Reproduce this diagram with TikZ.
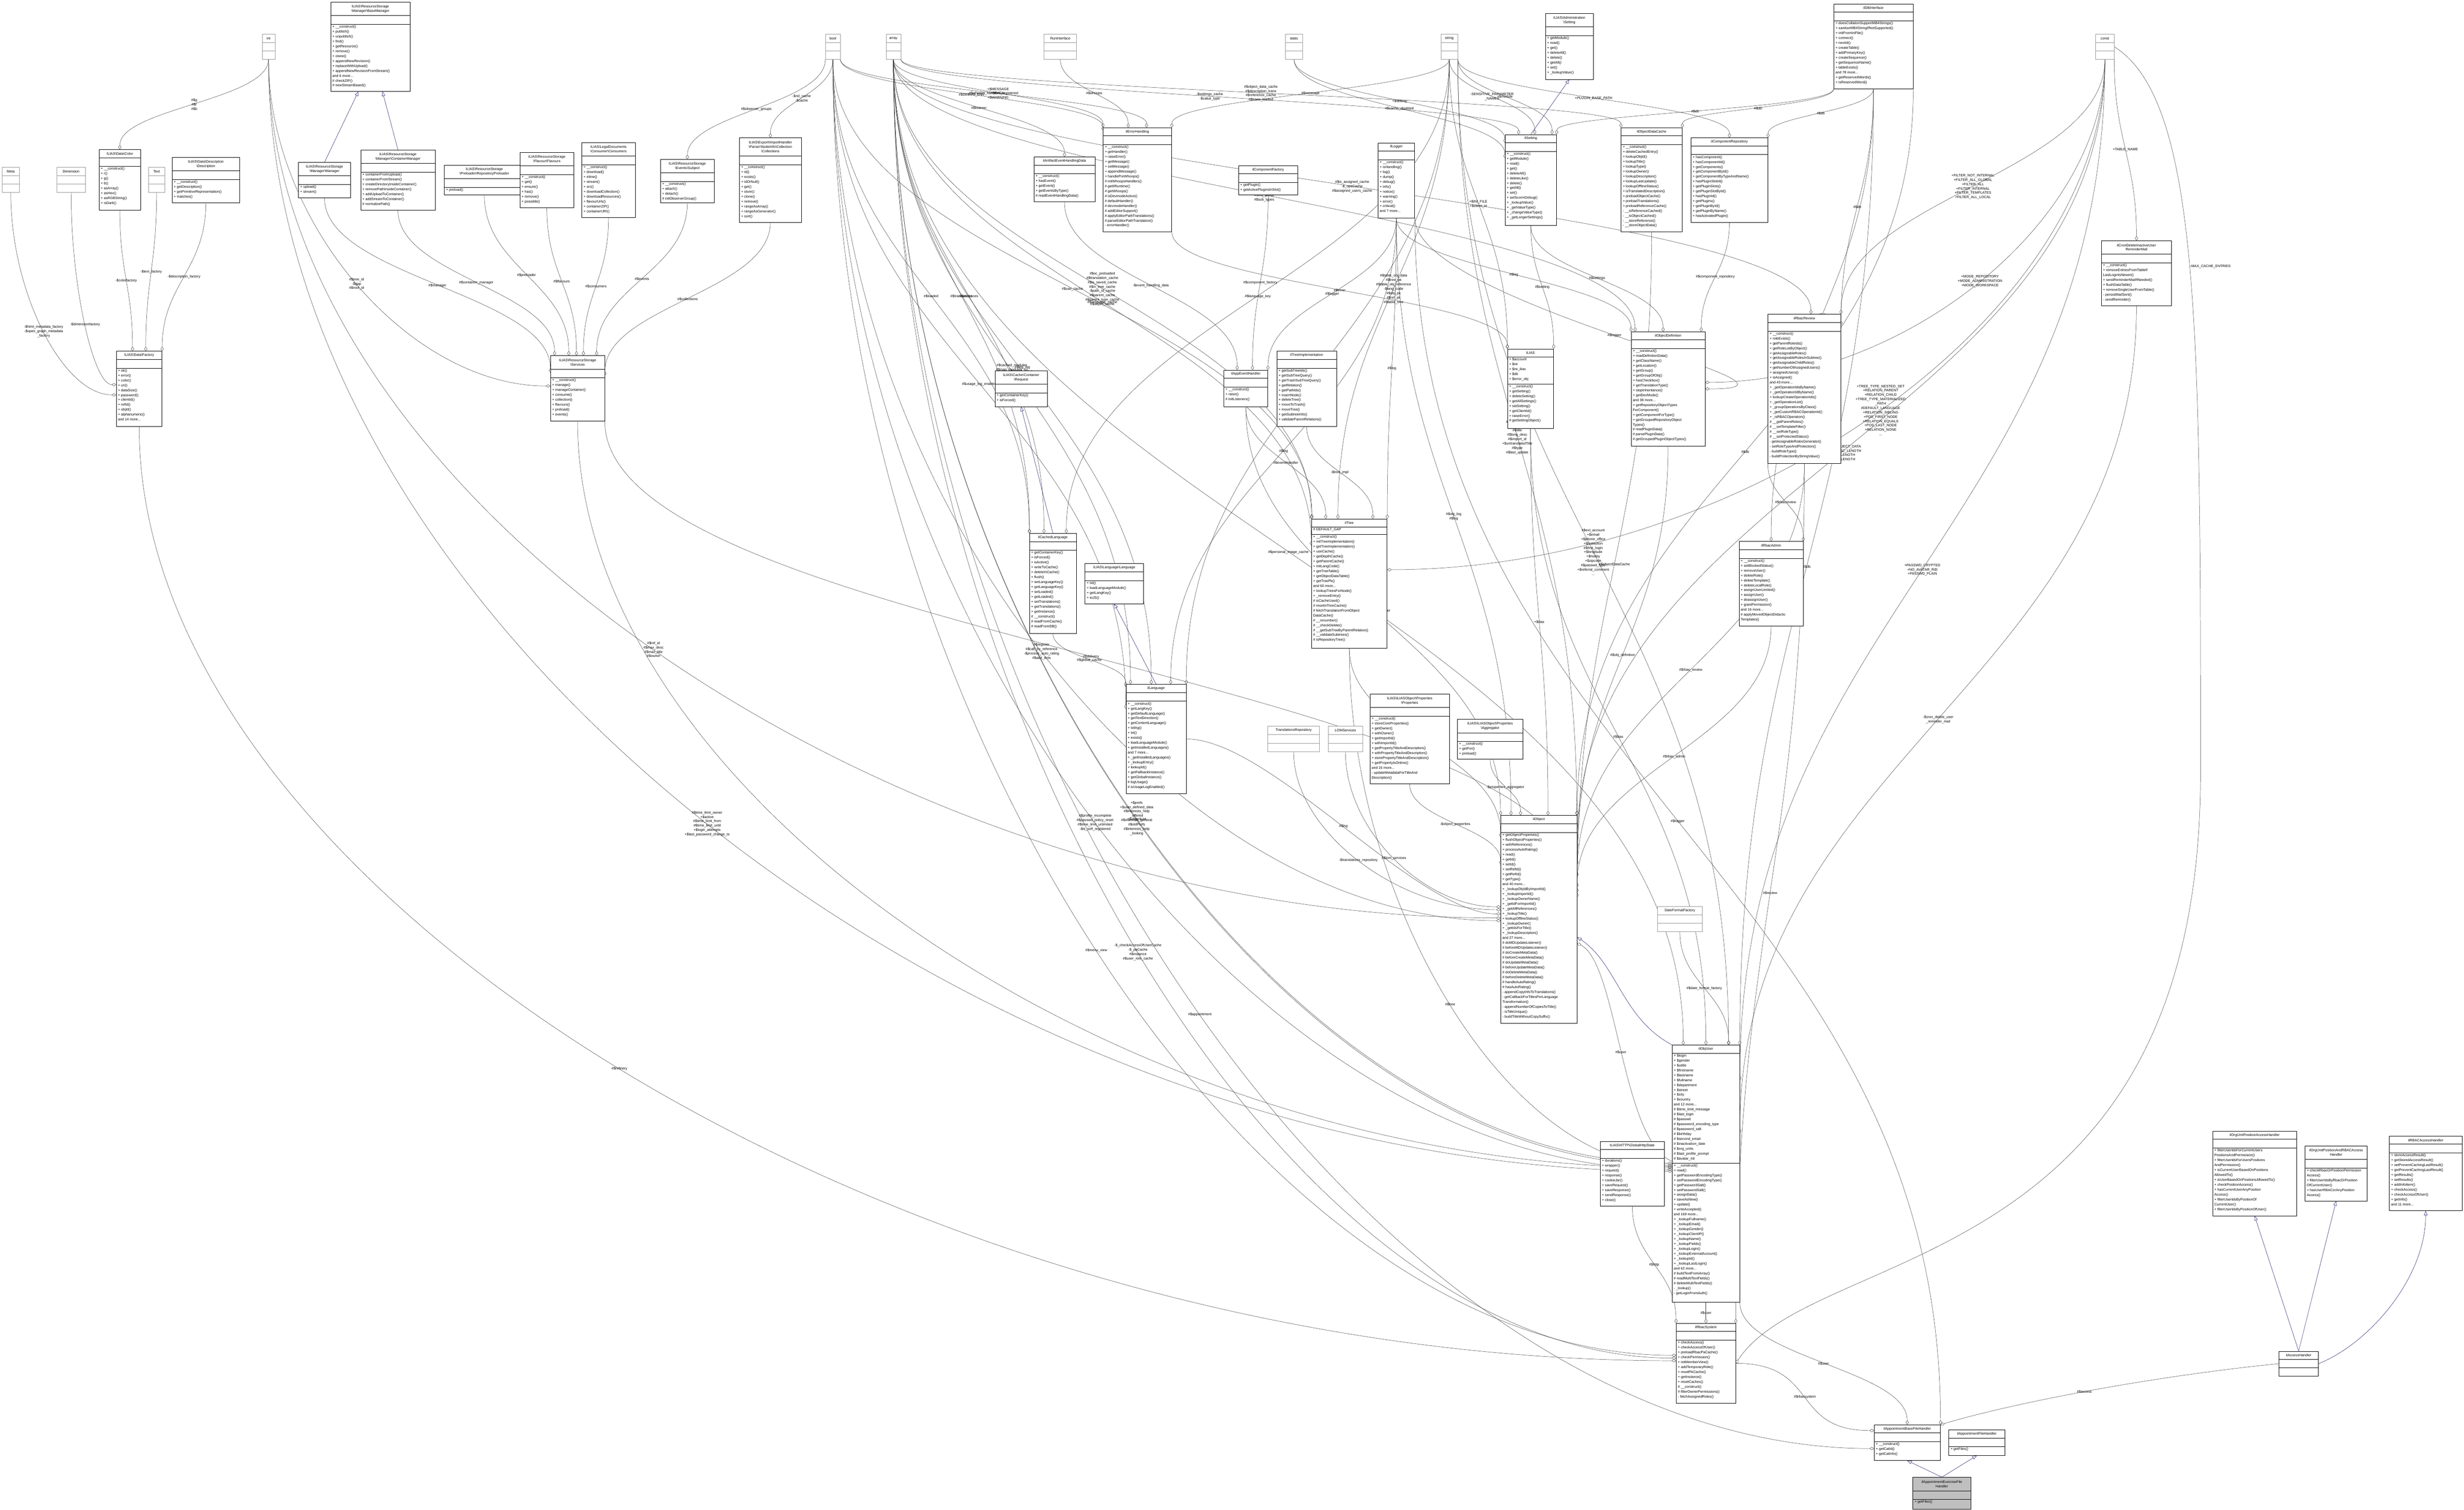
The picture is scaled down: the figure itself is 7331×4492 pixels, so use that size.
\documentclass[tikz,border=0pt]{standalone}
\usepackage{fontspec}
\setmainfont{Liberation Sans}
\usetikzlibrary{arrows.meta,fit,calc}
\pgfdeclarelayer{bg}
\pgfdeclarelayer{paper}
\pgfsetlayers{paper,bg,main}
\newcommand\Bk{\textbackslash}
\tikzset{
  boxfill/.style={fill=white},
  ttl/.style={align=center,inner sep=0pt,font=\fontsize{10.5}{13}\selectfont},
  bdy/.style={anchor=north west,align=left,inner sep=0pt,font=\fontsize{10.5}{14.6}\selectfont},
  lbl/.style={align=center,inner sep=1pt,font=\fontsize{10.5}{13}\selectfont},
  agg/.style={draw=black!80,line width=0.7pt,-{Diamond[open,length=13pt,width=9pt]}},
  inh/.style={draw=blue!35!black,line width=0.7pt,-{Triangle[open,length=13pt,width=10pt]}},
}
\newcommand\cls[9]{%
  \node[fit={(#2,#3)(#4,#5)},inner sep=0pt,draw=black,line width=0.9pt,boxfill] (#1) {};
  \draw[line width=0.8pt] (#2,#3+#6) -- (#4,#3+#6) (#2,#3+#6+#7) -- (#4,#3+#6+#7);
  \node[ttl] (#1-t) at ({(#2+#4)/2},{#3+#6/2}) {#8};
  \node[bdy] (#1-b) at (#2+5,#3+#6+#7+3) {#9};}
\newcommand\gcls[6]{%
  \node[fit={(#2,#3)(#4,#5)},inner sep=0pt,draw=black!40,line width=0.8pt,fill=white] (#1) {};
  \draw[black!40,line width=0.8pt] (#2,{#3+(#5-#3)/3}) -- (#4,{#3+(#5-#3)/3}) (#2,{#3+2*(#5-#3)/3}) -- (#4,{#3+2*(#5-#3)/3});
  \node[ttl] (#1-t) at ({(#2+#4)/2},{#3+(#5-#3)/6}) {#6};}
\newcommand\Ag[3]{\draw[agg] let \p1=(#1),\p2=(#2),\n1={(\y1-\y2)*0.45} in (\p1) .. controls ($(\p1)+(0,-\n1)$) and ($(\p2)+(0,\n1)$) .. node[lbl]{#3} (\p2);}
\newcommand\AgW[3]{\draw[agg] let \p1=(#1),\p2=(#2),\n1={(\y1-\y2)*0.5},\n2={abs(\x2-\x1)*0.5} in (\p1) .. controls ($(\p1)+(0,-\n1)$) and ($(\p2)+(-\n2,0)$) .. node[lbl]{#3} (\p2);}
\newcommand\AgE[3]{\draw[agg] let \p1=(#1),\p2=(#2),\n1={(\y1-\y2)*0.5},\n2={abs(\x2-\x1)*0.5} in (\p1) .. controls ($(\p1)+(0,-\n1)$) and ($(\p2)+(\n2,0)$) .. node[lbl]{#3} (\p2);}
\newcommand\AgH[3]{\draw[agg] (#1) .. controls +(250,0) and +(-250,0) .. node[lbl]{#3} (#2);}
\newcommand\In[2]{\draw[inh] (#1) -- (#2);}
\begin{document}
\begin{tikzpicture}[x=1pt,y=-1pt]
\useasboundingbox (0,0) rectangle (7331,4492);
\begin{pgfonlayer}{paper}
\fill[white] (0,0) rectangle (7331,4492);
\end{pgfonlayer}
% ---- type boxes
\gcls{int}{780}{102}{818}{176}{int}
\gcls{bool}{2456}{102}{2500}{176}{bool}
\gcls{array}{2636}{102}{2680}{176}{array}
\gcls{ri}{3106}{102}{3203}{176}{RunInterface}
\gcls{static}{3824}{102}{3876}{176}{static}
\gcls{string}{4287}{102}{4337}{176}{string}
\gcls{const}{6235}{102}{6290}{176}{const}
\gcls{meta}{6}{498}{58}{572}{Meta}
\gcls{dim}{169}{498}{254}{572}{Dimension}
\gcls{text}{442}{498}{490}{572}{Text}
\gcls{tr}{3772}{2160}{3926}{2237}{TranslationsRepository}
\gcls{lom}{3952}{2160}{4054}{2237}{LOMServices}
\gcls{dff}{4931}{2696}{5065}{2772}{DateFormatFactory}
% ---- classes
\cls{bm}{984}{6}{1220}{272}{40}{26}{ILIAS\Bk ResourceStorage\\\Bk Manager\Bk BaseManager}{+ \_\_construct()\\+ publish()\\+ unpublish()\\+ find()\\+ getResource()\\+ remove()\\+ clone()\\+ appendNewRevision()\\+ replaceWithUpload()\\+ appendNewRevisionFromStream()\\and 6 more...\\\# checkZIP()\\\# newStreamBased()}
\cls{color}{295}{445}{418}{625}{24}{26}{ILIAS\Bk Data\Bk Color}{+ \_\_construct()\\+ r()\\+ g()\\+ b()\\+ asArray()\\+ asHex()\\+ asRGBString()\\+ isDark()}
\cls{desc}{512}{468}{713}{603}{40}{26}{ILIAS\Bk Data\Bk Description\\\Bk Description}{+ \_\_construct()\\+ getDescription()\\+ getPrimitiveRepresentation()\\+ matches()}
\cls{fac}{346}{1045}{482}{1268}{24}{26}{ILIAS\Bk Data\Bk Factory}{+ ok()\\+ error()\\+ color()\\+ uri()\\+ dataSize()\\+ password()\\+ clientId()\\+ refId()\\+ objId()\\+ alphanumeric()\\and 14 more...}
\cls{man}{888}{483}{1043}{589}{40}{26}{ILIAS\Bk ResourceStorage\\\Bk Manager\Bk Manager}{+ upload()\\+ stream()}
\cls{cm}{1073}{446}{1295}{625}{40}{26}{ILIAS\Bk ResourceStorage\\\Bk Manager\Bk ContainerManager}{+ containerFromUpload()\\+ containerFromStream()\\+ createDirectoryInsideContainer()\\+ removePathInsideContainer()\\+ addUploadToContainer()\\+ addStreamToContainer()\\\# normalizePath()}
\cls{pre}{1322}{491}{1560}{579}{40}{26}{ILIAS\Bk ResourceStorage\\\Bk Preloader\Bk RepositoryPreloader}{+ preload()}
\cls{flav}{1547}{453}{1707}{618}{40}{26}{ILIAS\Bk ResourceStorage\\\Bk Flavour\Bk Flavours}{+ \_\_construct()\\+ get()\\+ ensure()\\+ has()\\+ remove()\\+ possible()}
\cls{cons}{1731}{424}{1890}{647}{40}{26}{ILIAS\Bk LegalDocuments\\\Bk Consumer\Bk Consumers}{+ \_\_construct()\\+ download()\\+ inline()\\+ stream()\\+ src()\\+ downloadCollection()\\+ downloadResources()\\+ flavourUrls()\\+ containerZIP()\\+ containerURI()}
\cls{subj}{1965}{474}{2125}{603}{40}{26}{ILIAS\Bk ResourceStorage\\\Bk Events\Bk Subject}{+ \_\_construct()\\+ attach()\\+ detach()\\\# initObserverGroup()}
\cls{coll}{2200}{410}{2384}{661}{54}{26}{ILIAS\Bk Export\Bk ImportHandler\\\Bk Parser\Bk NodeInfo\Bk Collection\\\Bk Collections}{+ \_\_construct()\\+ id()\\+ exists()\\+ idOrNull()\\+ get()\\+ store()\\+ clone()\\+ remove()\\+ rangeAsArray()\\+ rangeAsGenerator()\\+ sort()}
\cls{serv}{1638}{1058}{1799}{1253}{40}{26}{ILIAS\Bk ResourceStorage\\\Bk Services}{+ \_\_construct()\\+ manage()\\+ manageContainer()\\+ consume()\\+ collection()\\+ flavours()\\+ preload()\\+ events()}
\cls{eh}{3282}{380}{3486}{690}{24}{26}{ilErrorHandling}{+ \_\_construct()\\+ getHandler()\\+ raiseError()\\+ getMessage()\\+ setMessage()\\+ appendMessage()\\+ handlePreWhoops()\\\# initWhoopsHandlers()\\\# getIlRuntime()\\\# getWhoops()\\\# isDevmodeActive()\\\# defaultHandler()\\\# devmodeHandler()\\\# addEditorSupport()\\\# applyEditorPathTranslations()\\\# parseEditorPathTranslation()\\- errorHandler()}
\cls{aehd}{3076}{467}{3258}{600}{24}{26}{ilArtifactEventHandlingData}{+ \_\_construct()\\+ hasEvent()\\+ getEvent()\\+ getEventsByType()\\\# readEventHandlingData()}
\cls{cf}{3685}{493}{3861}{580}{24}{26}{ilComponentFactory}{+ getPlugin()\\+ getActivePluginsInSlot()}
\cls{logger}{4100}{425}{4209}{648}{24}{26}{ilLogger}{+ \_\_construct()\\+ isHandling()\\+ log()\\+ dump()\\+ debug()\\+ info()\\+ notice()\\+ warning()\\+ error()\\+ critical()\\and 7 more...}
\cls{set}{4478}{400}{4631}{670}{24}{26}{ilSetting}{+ \_\_construct()\\+ getModule()\\+ read()\\+ get()\\+ deleteAll()\\+ deleteLike()\\+ delete()\\+ getAll()\\+ set()\\+ setScormDebug()\\+ \_lookupValue()\\+ \_getValueType()\\+ \_changeValueType()\\+ \_getLongerSettings()}
\cls{admset}{4598}{40}{4740}{236}{40}{26}{ILIAS\Bk Administration\\\Bk Setting}{+ getModule()\\+ read()\\+ get()\\+ deleteAll()\\+ delete()\\+ getAll()\\+ set()\\+ \_lookupValue()}
\cls{db}{5456}{12}{5692}{264}{24}{26}{ilDBInterface}{+ doesCollationSupportMB4Strings()\\+ sanitizeMB4StringIfNotSupported()\\+ initFromIniFile()\\+ connect()\\+ nextId()\\+ createTable()\\+ addPrimaryKey()\\+ createSequence()\\+ getSequenceName()\\+ tableExists()\\and 78 more...\\+ getReservedWords()\\+ isReservedWord()}
\cls{odc}{4823}{380}{5005}{690}{24}{26}{ilObjectDataCache}{+ \_\_construct()\\+ deleteCachedEntry()\\+ lookupObjId()\\+ lookupTitle()\\+ lookupType()\\+ lookupOwner()\\+ lookupDescription()\\+ lookupLastUpdate()\\+ lookupOfflineStatus()\\+ isTranslatedDescription()\\+ preloadObjectCache()\\+ preloadTranslations()\\+ preloadReferenceCache()\\- \_\_isReferenceCached()\\- \_\_isObjectCached()\\- \_\_storeReference()\\- \_\_storeObjectData()}
\cls{cr}{5031}{410}{5260}{661}{24}{26}{ilComponentRepository}{+ hasComponent()\\+ hasComponentId()\\+ getComponents()\\+ getComponentById()\\+ getComponentByTypeAndName()\\+ hasPluginSlotId()\\+ getPluginSlots()\\+ getPluginSlotById()\\+ hasPluginId()\\+ getPlugins()\\+ getPluginById()\\+ getPluginByName()\\+ hasActivatedPlugin()}
\cls{cron}{6252}{716}{6461}{909}{40}{26}{ilCronDeleteInactiveUser\\ReminderMail}{+ \_\_construct()\\+ removeEntriesFromTableIf\\LastLoginIsNewer()\\+ sendReminderMailIfNeeded()\\+ flushDataTable()\\+ removeSingleUserFromTable()\\- persistMailSent()\\- sendReminder()}
\cls{od}{4853}{987}{5073}{1327}{24}{26}{ilObjectDefinition}{+ \_\_construct()\\+ readDefinitionData()\\+ getClassName()\\+ getLocation()\\+ getGroup()\\+ getGroupOfObj()\\+ hasCheckbox()\\+ getTranslationType()\\+ stopInheritance()\\+ getDevMode()\\and 38 more...\\+ getRepositoryObjectTypes\\ForComponent()\\+ getComponentForType()\\+ getGroupedRepositoryObject\\Types()\\\# readPluginData()\\\# parsePluginData()\\\# getGroupedPluginObjectTypes()}
\cls{rr}{5260}{935}{5477}{1378}{24}{26}{ilRbacReview}{+ \_\_construct()\\+ roleExists()\\+ getParentRoleIds()\\+ getRoleListByObject()\\+ getAssignableRoles()\\+ getAssignableRolesInSubtree()\\+ getAssignableChildRoles()\\+ getNumberOfAssignedUsers()\\+ assignedUsers()\\+ isAssigned()\\and 43 more...\\+ \_getOperationIdsByName()\\+ \_getOperationIdByName()\\+ lookupCreateOperationIds()\\+ \_getOperationList()\\+ \_groupOperationsByClass()\\+ \_getCustomRBACOperationId()\\+ \_isRBACOperation()\\\# \_\_getParentRoles()\\\# \_\_setTemplateFilter()\\\# \_\_setRoleType()\\\# \_\_setProtectedStatus()\\- getAssignableRolesGenerator()\\- setRoleTypeAndProtection()\\- buildRoleType()\\- buildProtectionByStringValue()}
\cls{ilias}{4485}{1038}{4622}{1275}{24}{80}{ILIAS}{+ \_\_construct()\\+ getSetting()\\+ deleteSetting()\\+ getAllSettings()\\+ setSetting()\\+ getClientId()\\+ raiseError()\\\# getSettingObject()}
\node[bdy] (ilias-a) at (4490,1065) {+ \$account\\+ \$ini\\+ \$ini\_ilias\\+ \$db\\+ \$error\_obj};
\cls{aeh}{3641}{1101}{3772}{1210}{24}{26}{ilAppEventHandler}{+ \_\_construct()\\+ raise()\\\# initListeners()}
\cls{ti}{3799}{1045}{3976}{1268}{24}{26}{ilTreeImplementation}{+ getSubTreeIds()\\+ getSubTreeQuery()\\+ getTrashSubTreeQuery()\\+ getRelation()\\+ getPathIds()\\+ insertNode()\\+ deleteTree()\\+ moveToTrash()\\+ moveTree()\\+ getSubtreeInfo()\\+ validateParentRelations()}
\cls{req}{2960}{1103}{3116}{1210}{40}{26}{ILIAS\Bk Cache\Bk Container\\\Bk Request}{+ getContainerKey()\\+ isForced()}
\cls{cl}{3063}{1587}{3202}{1884}{24}{26}{ilCachedLanguage}{+ getContainerKey()\\+ isForced()\\+ isActive()\\+ writeToCache()\\+ deleteInCache()\\+ flush()\\+ setLanguageKey()\\+ getLanguageKey()\\+ setLoaded()\\+ getLoaded()\\+ setTranslations()\\+ getTranslations()\\+ getInstance()\\\# \_\_construct()\\\# readFromCache()\\\# readFromDB()}
\cls{ll}{3228}{1677}{3402}{1796}{24}{26}{ILIAS\Bk Language\Bk Language}{+ txt()\\+ loadLanguageModule()\\+ getLangKey()\\+ toJS()}
\cls{lang}{3350}{2036}{3529}{2361}{24}{26}{ilLanguage}{+ \_\_construct()\\+ getLangKey()\\+ getDefaultLanguage()\\+ getTextDirection()\\+ getContentLanguage()\\+ txtlng()\\+ txt()\\+ exists()\\+ loadLanguageModule()\\+ getInstalledLanguages()\\and 7 more...\\+ \_getInstalledLanguages()\\+ \_lookupEntry()\\+ lookupId()\\+ getFallbackInstance()\\+ getGlobalInstance()\\\# logUsage()\\\# isUsageLogEnabled()}
\cls{tree}{3902}{1544}{4127}{1928}{24}{22}{ilTree}{+ \_\_construct()\\+ initTreeImplementation()\\+ getTreeImplementation()\\+ useCache()\\+ getDepthCache()\\+ getParentCache()\\+ initLangCode()\\+ getTreeTable()\\+ getObjectDataTable()\\+ getTreePk()\\and 60 more...\\+ lookupTreesForNode()\\+ \_removeEntry()\\\# isCacheUsed()\\\# resetInTreeCache()\\\# fetchTranslationFromObject\\DataCache()\\\# \_\_renumber()\\\# \_\_checkDelete()\\\# \_\_getSubTreeByParentRelation()\\\# \_\_validateSubtrees()\\\# isRepositoryTree()}
\node[bdy] (tree-a) at (3907,1571) {\# DEFAULT\_GAP};
\cls{prop}{4076}{2065}{4312}{2332}{40}{26}{ILIAS\Bk ILIASObject\Bk Properties\\\Bk Properties}{+ \_\_construct()\\+ storeCoreProperties()\\+ getOwner()\\+ withOwner()\\+ getImportId()\\+ withImportId()\\+ getPropertyTitleAndDescription()\\+ withPropertyTitleAndDescription()\\+ storePropertyTitleAndDescription()\\+ getPropertyIsOnline()\\and 16 more...\\- updateMetadataForTitleAnd\\Description()}
\cls{aggr}{4336}{2140}{4531}{2259}{40}{26}{ILIAS\Bk ILIASObject\Bk Properties\\\Bk Aggregator}{+ \_\_construct()\\+ getFor()\\+ preload()}
\cls{rba}{5174}{1611}{5365}{1862}{24}{26}{ilRbacAdmin}{+ \_\_construct()\\+ setBlockedStatus()\\+ removeUser()\\+ deleteRole()\\+ deleteTemplate()\\+ deleteLocalRole()\\+ assignUserLimited()\\+ assignUser()\\+ deassignUser()\\+ grantPermission()\\and 16 more...\\\# applyMovedObjectDidactic\\Templates()}
\cls{obj}{4465}{2426}{4692}{3044}{24}{27}{ilObject}{+ getObjectProperties()\\+ flushObjectProperties()\\+ withReferences()\\+ processAutoRating()\\+ read()\\+ getId()\\+ setId()\\+ setRefId()\\+ getRefId()\\+ getType()\\and 40 more...\\+ \_lookupObjIdByImportId()\\+ \_lookupImportId()\\+ \_lookupOwnerName()\\+ \_getIdForImportId()\\+ \_getAllReferences()\\+ \_lookupTitle()\\+ lookupOfflineStatus()\\+ \_lookupOwner()\\+ \_getIdsForTitle()\\+ \_lookupDescription()\\and 27 more...\\\# doMDUpdateListener()\\\# beforeMDUpdateListener()\\\# doCreateMetaData()\\\# beforeCreateMetaData()\\\# doUpdateMetaData()\\\# beforeUpdateMetaData()\\\# doDeleteMetaData()\\\# beforeDeleteMetaData()\\\# handleAutoRating()\\\# hasAutoRating()\\- appendCopyInfoToTranslations()\\- getCallbackForTitlesPerLanguage\\Transformation()\\- appendNumberOfCopiesToTitle()\\- isTitleUnique()\\- buildTitleWithoutCopySuffix()}
\cls{ou}{4975}{3109}{5176}{3874}{24}{327}{ilObjUser}{+ \_\_construct()\\+ read()\\+ getPasswordEncodingType()\\+ setPasswordEncodingType()\\+ getPasswordSalt()\\+ setPasswordSalt()\\+ assignData()\\+ saveAsNew()\\+ update()\\+ writeAccepted()\\and 169 more...\\+ \_lookupFullname()\\+ \_lookupEmail()\\+ \_lookupGender()\\+ \_lookupClientIP()\\+ \_lookupName()\\+ \_lookupFields()\\+ \_lookupLogin()\\+ \_lookupExternalAccount()\\+ \_lookupId()\\+ \_lookupLastLogin()\\and 62 more...\\\# buildTextFromArray()\\\# readMultiTextFields()\\\# deleteMultiTextFields()\\- \_lookup()\\- getLoginFromAuth()}
\node[bdy] (ou-a) at (4980,3136) {+ \$login\\+ \$gender\\+ \$utitle\\+ \$firstname\\+ \$lastname\\+ \$fullname\\+ \$department\\+ \$street\\+ \$city\\+ \$country\\and 12 more...\\\# \$time\_limit\_message\\\# \$last\_login\\\# \$passwd\\\# \$password\_encoding\_type\\\# \$password\_salt\\\# \$birthday\\\# \$second\_email\\\# \$inactivation\_date\\\# \$org\_units\\\# \$last\_profile\_prompt\\\# \$avatar\_rid};
\cls{ghs}{4761}{3396}{4952}{3588}{24}{26}{ILIAS\Bk HTTP\Bk GlobalHttpState}{+ durations()\\+ wrapper()\\+ request()\\+ response()\\+ cookieJar()\\+ saveRequest()\\+ saveResponse()\\+ sendResponse()\\+ close()}
\cls{rbs}{4987}{3937}{5164}{4175}{24}{26}{ilRbacSystem}{+ checkAccess()\\+ checkAccessOfUser()\\+ preloadRbacPaCache()\\+ checkPermission()\\+ initMemberView()\\+ addTemporaryRole()\\+ resetPACache()\\+ getInstance()\\+ resetCaches()\\\# \_\_construct()\\\# filterOwnerPermissions()\\- fetchAssignedRoles()}
\cls{base}{5576}{4239}{5773}{4345}{24}{26}{ilAppointmentBaseFileHandler}{+ \_\_construct()\\+ getCatId()\\+ getCatInfo()}
\cls{fh}{5798}{4254}{5965}{4330}{24}{26}{ilAppointmentFileHandler}{+ getFiles()}
\begin{scope}\tikzset{boxfill/.style={fill=black!25}}
\cls{ex}{5691}{4395}{5864}{4490}{40}{26}{ilAppointmentExerciseFile\\Handler}{+ getFiles()}
\end{scope}
\cls{oup}{6583}{3365}{6833}{3617}{24}{26}{ilOrgUnitPositionAccessHandler}{+ filterUserIdsForCurrentUsers\\PositionsAndPermission()\\+ filterUserIdsForUsersPositions\\AndPermission()\\+ isCurrentUserBasedOnPositions\\AllowedTo()\\+ isUserBasedOnPositionsAllowedTo()\\+ checkPositionAccess()\\+ hasCurrentUserAnyPosition\\Access()\\+ filterUserIdsByPositionOf\\CurrentUser()\\+ filterUserIdsByPositionOfUser()}
\cls{our}{6858}{3409}{7043}{3573}{40}{26}{ilOrgUnitPositionAndRBACAccess\\Handler}{+ checkRbacOrPositionPermission\\Access()\\+ filterUserIdsByRbacOrPosition\\OfCurrentUser()\\+ hasUserRBACorAnyPosition\\Access()}
\cls{rbac}{7109}{3380}{7325}{3602}{24}{26}{ilRBACAccessHandler}{+ storeAccessResult()\\+ getStoredAccessResult()\\+ setPreventCachingLastResult()\\+ getPreventCachingLastResult()\\+ getResults()\\+ setResults()\\+ addInfoItem()\\+ checkAccess()\\+ checkAccessOfUser()\\+ getInfo()\\and 11 more...}
\cls{ah}{6780}{4020}{6898}{4094}{24}{25}{ilAccessHandler}{}
% ---- connectors
\begin{pgfonlayer}{bg}
\Ag{int.south}{color.north}{\#\$g\\\#\$r\\\#\$b}
\AgW{meta.south}{fac.195}{-\$html\_metadata\_factory\\-\$open\_graph\_metadata\\\_factory}
\AgW{dim.south}{fac.170}{-\$dimensionfactory}
\Ag{color.south}{fac.100}{-\$colorfactory}
\Ag{text.south}{fac.80}{-\$text\_factory}
\Ag{desc.south}{fac.north east}{-\$description\_factory}
\In{man.north}{bm.255}
\In{cm.north}{bm.285}
\AgW{int.south}{serv.175}{\#\$tree\_id\\-\$gap\\\#\$root\_id}
\Ag{man.south}{serv.150}{\#\$manager}
\Ag{cm.south}{serv.125}{\#\$container\_manager}
\Ag{pre.south}{serv.105}{\#\$preloader}
\Ag{flav.south}{serv.92}{\#\$flavours}
\Ag{cons.south}{serv.80}{\#\$consumers}
\Ag{subj.south}{serv.60}{\#\$events}
\Ag{coll.south}{serv.25}{\#\$collections}
\Ag{bool.south west}{subj.north}{\#\$observer\_groups}
\Ag{bool.south}{coll.north}{-\$rid\_cache\\-\$cache}
\AgW{fac.south}{rbs.175}{\#\$refinery}
\AgW{serv.south}{ou.170}{}
\AgW{int.south}{obj.178}{\#\$ref\_id\\\#\$max\_desc\\\#\$max\_title\\\#\$owner}
\AgW{bool.south}{obj.182}{\#\$register\\\#\$call\_by\_reference\\-\$process\_auto\_rating\\\#\$add\_dots}
\AgW{int.south}{ou.176}{\#\$time\_limit\_owner\\+\$active\\\#\$time\_limit\_from\\\#\$time\_limit\_until\\+\$login\_attempts\\+\$last\_password\_change\_ts}
\AgW{bool.south}{ou.173}{\#\$profile\_incomplete\\\#\$passwd\_policy\_reset\\\#\$time\_limit\_unlimited\\-\$is\_self\_registered}
\AgW{array.south}{base.190}{\#\$appointment}
\Ag{array.south}{eh.north west}{+\$MESSAGE\\+\$FATAL\\+\$WARNING}
\Ag{bool.south east}{eh.125}{\#\$DEBUG\_ENV}
\Ag{array.south}{aehd.north}{\#\$listener}
\Ag{ri.south}{eh.100}{\#\$whoops}
\Ag{bool.south east}{eh.80}{\#\$whoops\_handlers\_registered}
\Ag{string.south}{eh.north east}{\#\$message}
\Ag{static.south}{set.140}{\#\$cache\_disabled}
\Ag{static.south}{set.125}{+\$setting}
\Ag{array.south east}{odc.north west}{\#\$object\_data\_cache\\\#\$description\_trans\\\#\$reference\_cache\\\#\$trans\_loaded}
\Ag{array.south east}{set.105}{-\$settings\_cache\\-\$value\_type}
\Ag{string.south}{set.85}{-SENSITIVE\_PARAMETER\\\_NAMES}
\Ag{string.south east}{set.65}{+\$module}
\Ag{db.south west}{set.north east}{\#\$db}
\Ag{db.south west}{odc.north east}{\#\$db}
\Ag{db.south}{cr.north east}{\#\$db}
\In{set.north}{admset.south}
\Ag{string.south east}{cr.north}{+PLUGIN\_BASE\_PATH}
\Ag{const.south east}{cron.north}{+TABLE\_NAME}
\Ag{bool.south}{cl.north west}{\#\$loaded}
\Ag{array.south}{cl.115}{\#\$translations}
\Ag{bool.south}{tree.120}{\#\$use\_cache}
\Ag{array.south}{cl.100}{\#\$instances}
\Ag{array.south}{tree.north west}{\#\$oc\_preloaded\\\#\$translation\_cache\\\#\$is\_saved\_cache\\\#\$in\_tree\_cache\\-\$path\_id\_cache\\\#\$parent\_cache\\\#\$parent\_type\_cache\\\#\$depth\_cache}
\Ag{aehd.south}{aeh.115}{-\$event\_handling\_data}
\Ag{string.south}{cl.75}{\#\$language\_key}
\Ag{cf.south}{aeh.70}{\#\$component\_factory}
\Ag{logger.south}{aeh.north east}{\#\$logger}
\Ag{string.south}{tree.100}{\#\$table\_obj\_data\\\#\$tree\_pk\\\#\$table\_obj\_reference\\-\$lang\_code\\\#\$obj\_pk\\\#\$ref\_pk\\\#\$table\_tree}
\Ag{string.south}{ilias.120}{+\$INI\_FILE\\+\$client\_id}
\Ag{array.south}{od.120}{\#\$obj\_data\\\#\$obj\_group\\\#\$sub\_types}
\Ag{eh.south east}{ilias.north west}{\#\$error}
\Ag{logger.south}{od.north west}{\#\$log}
\Ag{cr.south}{od.60}{\#\$component\_repository}
\Ag{set.south}{od.95}{\#\$settings}
\Ag{set.south}{ilias.north east}{\#\$setting}
\Ag{array.south}{rr.85}{\#\$is\_assigned\_cache\\-\$\_opsCache\\\#\$assigned\_users\_cache}
\Ag{db.south}{rr.60}{\#\$db}
\AgE{const.south}{od.10}{+MODE\_REPOSITORY\\+MODE\_ADMINISTRATION\\+MODE\_WORKSPACE}
\Ag{const.south}{rr.north east}{+FILTER\_NOT\_INTERNAL\\+FILTER\_ALL\_GLOBAL\\+FILTER\_ALL\\+FILTER\_INTERNAL\\+FILTER\_TEMPLATES\\+FILTER\_ALL\_LOCAL}
\AgE{const.south}{tree.20}{+TREE\_TYPE\_NESTED\_SET\\+RELATION\_PARENT\\+RELATION\_CHILD\\+TREE\_TYPE\_MATERIALIZED\\\_PATH\\\#DEFAULT\_LANGUAGE\\+RELATION\_SIBLING\\+POS\_FIRST\_NODE\\+RELATION\_EQUALS\\+POS\_LAST\_NODE\\+RELATION\_NONE\\...}
\Ag{db.south east}{obj.north east}{\#\$db}
\Ag{bool.south}{lang.135}{\#\$usage\_log\_enabled}
\Ag{array.south}{lang.115}{\#\$cached\_modules\\\#\$map\_modules\_txt\\-\$loaded\_modules\\+\$text}
\Ag{array.south}{lang.95}{\#\$lng\_log\\\#\$used\_modules\\\#\$used\_topics}
\Ag{logger.south}{lang.75}{\#\$log}
\Ag{string.south}{lang.north east}{+\$lang\_name\\+\$lang\_user\\+\$lang\_path\\\#\$cust\_lang\_path\\+\$separator\\+\$comment\_separator\\-\$lang\_key\\+\$lang\_default}
\AgE{logger.south east}{od.east}{\#\$logger}
\Ag{ti.south}{tree.70}{-\$tree\_impl}
\Ag{aeh.south}{tree.110}{\#\$eventHandler}
\Ag{array.south}{tree.135}{\#\$language\_cache}
\Ag{logger.south}{tree.north east}{\#\$log}
\In{cl.north}{req.south}
\AgW{array.south}{ou.166}{+\$objectList}
\AgW{array.south}{ou.163}{+\$prefs\\+\$user\_defined\_data\\\#\$interests\_help\\\_offered\\\#\$interests\_general\\\#\$oldPrefs\\\#\$interests\_help\\\_looking}
\AgW{array.south}{rbs.170}{-\$\_checkAccessOfUserCache\\-\$\_paCache\\\#\$instance\\\#\$user\_role\_cache}
\AgW{bool.south}{rbs.165}{\#\$menu\_view}
\Ag{cl.south}{lang.120}{\#\$global\_cache}
\In{lang.north}{ll.south}
\Ag{aeh.south}{obj.north west}{\#\$app\_event\_handler}
\Ag{logger.south}{obj.105}{\#\$obj\_log\\\#\$log}
\Ag{ilias.south}{obj.85}{+\$ilias}
\Ag{ilias.south}{ou.north}{\#\$ilias}
\Ag{array.south}{ou.100}{\#\$personal\_image\_cache}
\AgH{lang.east}{obj.172}{\#\$lng}
\AgW{tr.south}{obj.166}{-\$translations\_repository}
\AgW{lom.south}{obj.162}{\#\$lom\_services}
\Ag{prop.south}{obj.125}{-\$object\_properties}
\Ag{aggr.south}{obj.100}{-\$properties\_aggregator}
\Ag{tree.south}{obj.115}{\#\$tree}
\AgW{tree.south}{ou.168}{\#\$tree}
\Ag{rr.south west}{rba.north east}{\#\$rbacreview}
\Ag{db.south}{rba.north}{\#\$db}
\Ag{string.south east}{obj.70}{\#\$create\_date\\\#\$desc\\\#\$title\\\#\$long\_desc\\\#\$import\_id\\+\$untranslatedTitle\\\#\$type\\\#\$last\_update}
\Ag{const.south}{obj.62}{+TABLE\_OBJECT\_DATA\\+LONG\_DESC\_LENGTH\\+TITLE\_LENGTH\\+DESC\_LENGTH}
\Ag{string.south east}{ou.80}{\#\$ext\_account\\+\$email\\+\$phone\_office\\+\$institution\\\#\$first\_login\\+\$longitude\\+\$hobby\\+\$zipcode\\\#\$passwd\_type\\+\$referral\_comment\\...}
\Ag{const.south}{ou.70}{+PASSWD\_CRYPTED\\+NO\_AVATAR\_RID\\+PASSWD\_PLAIN}
\Ag{od.south}{obj.55}{\#\$obj\_definition}
\Ag{rr.south}{obj.48}{\#\$rbac\_review}
\Ag{db.south}{ou.north east}{\#\$db}
\Ag{cron.south}{ou.50}{-\$cron\_delete\_user\\\_reminder\_mail}
\draw[agg] (const.east) .. controls (6547,300) and (6547,1000) .. node[lbl,right]{-MAX\_CACHE\_ENTRIES} (6547,2300) .. controls (6547,3800) and (5400,3700) .. (rbs.east);
\Ag{rba.south}{obj.40}{\#\$rbac\_admin}
\Ag{serv.south east}{obj.35}{\#\$delivery}
\Ag{odc.south}{obj.30}{\#\$objectDataCache}
\Ag{rr.south}{rbs.north east}{\#\$review}
\Ag{logger.south east}{base.north east}{\#\$logger}
\Ag{ou.south east}{base.north}{\#\$user}
\AgH{rbs.east}{base.160}{\#\$rbacsystem}
\draw[agg] (ah.west) .. controls +(-400,40) and +(200,-60) .. node[lbl]{\#\$access} (base.north east);
\In{ah.north}{oup.south}
\In{ah.north}{our.south}
\draw[inh] (ah.east) .. controls +(150,-60) and +(0,200) .. (rbac.south);
\In{ex.north}{base.south}
\In{ex.north}{fh.south}
\draw[inh] (ou.north west) .. controls +(-150,-80) and +(120,80) .. (obj.-25);
\draw[agg] (ou.160) .. controls +(-150,-60) and +(120,60) .. node[lbl]{\#\$user} (obj.-32);
\Ag{dff.south}{ou.80}{\#\$date\_format\_factory}
\Ag{ghs.south}{rbs.north west}{\#\$http}
\Ag{ou.south}{rbs.north}{\#\$user}
\end{pgfonlayer}
\end{tikzpicture}
\end{document}
